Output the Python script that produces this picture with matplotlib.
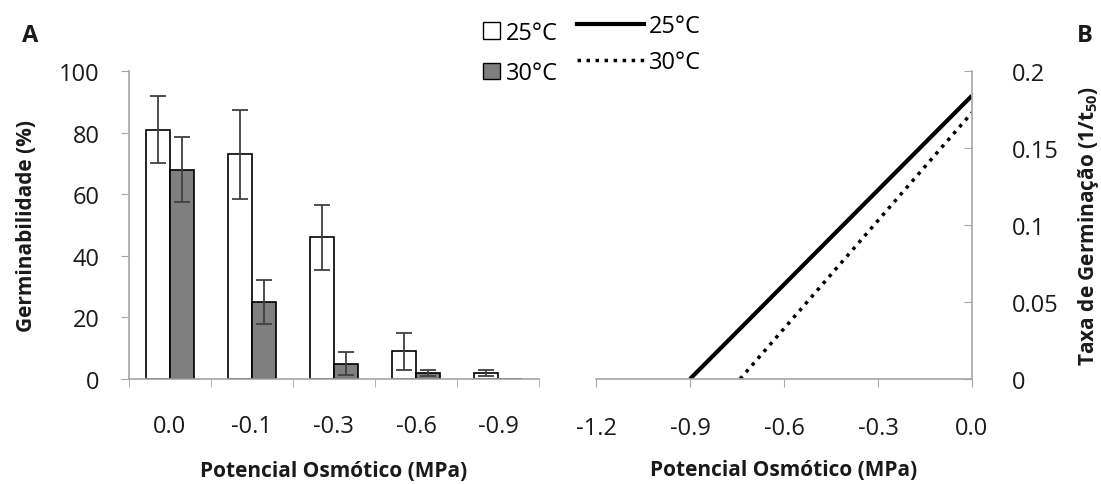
import numpy as np
import matplotlib
matplotlib.use("Agg")
import matplotlib.pyplot as plt
from matplotlib.patches import Patch
from matplotlib.lines import Line2D

plt.rcParams['font.family'] = ['Open Sans', 'DejaVu Sans']
plt.rcParams['mathtext.fontset'] = 'custom'
plt.rcParams['mathtext.rm'] = 'Open Sans'
plt.rcParams['mathtext.bf'] = 'Open Sans:bold'

# panel A: germinability (%)
categories = ['0.0', '-0.1', '-0.3', '-0.6', '-0.9']
germ_25 = [81, 73, 46, 9, 2]
err_25 = [11, 14.5, 10.5, 6, 1]
germ_30 = [68, 25, 5, 2, 0]
err_30 = [10.5, 7, 3.7, 1, 0]

# panel B: germination rate lines (1/t50)
x_25 = [-0.9, 0.0]
y_25 = [0.0, 0.184]
x_30 = [-0.74, 0.0]
y_30 = [0.0, 0.173]

b_ticks = [-1.2, -0.9, -0.6, -0.3, 0.0]
b_yticks = [0, 0.05, 0.1, 0.15, 0.2]

axis_col = '#a6a6a6'
txt_col = '#1a1a1a'
fs = 17
lfs = 15

fig = plt.figure(figsize=(11.01, 4.85), dpi=100)
axA = fig.add_axes([0.117, 0.2165, 0.3726, 0.635])
axB = fig.add_axes([0.5413, 0.2165, 0.3415, 0.635])

# ----- A -----
x = np.arange(len(categories))
w = 0.29
axA.bar(x - w / 2, germ_25, w, color='white', edgecolor='black', linewidth=1.2)
axA.bar(x + w / 2, germ_30, w, color='#7f7f7f', edgecolor='black', linewidth=1.2)
for i in range(len(categories)):
    if germ_25[i] > 0:
        axA.errorbar(x[i] - w / 2, germ_25[i], yerr=err_25[i], fmt='none',
                     ecolor='#404040', elinewidth=1.3, capsize=6, capthick=1.3)
    if germ_30[i] > 0:
        axA.errorbar(x[i] + w / 2, germ_30[i], yerr=err_30[i], fmt='none',
                     ecolor='#404040', elinewidth=1.3, capsize=6, capthick=1.3)
axA.set_xlim(-0.5, len(categories) - 0.5)
axA.set_ylim(0, 100)
axA.set_yticks([0, 20, 40, 60, 80, 100])
axA.set_xticks(x)
axA.set_xticklabels(categories)
axA.set_xticks(np.arange(-0.5, len(categories), 1), minor=True)
axA.tick_params(axis='x', which='major', length=0, pad=25)
axA.tick_params(axis='x', which='minor', length=6, color=axis_col, direction='out')
axA.tick_params(axis='y', length=6, color=axis_col, direction='out', pad=15)
axA.tick_params(labelsize=fs, labelcolor=txt_col)
for s in ['top', 'right']:
    axA.spines[s].set_visible(False)
for s in ['left', 'bottom']:
    axA.spines[s].set_color(axis_col)
    axA.spines[s].set_linewidth(1.2)
axA.set_ylabel('Germinabilidade (%)', fontsize=lfs, fontweight='bold', labelpad=16, color=txt_col)
axA.set_xlabel('Potencial Osmótico (MPa)', fontsize=lfs, fontweight='bold', labelpad=16, color=txt_col)

# ----- B -----
axB.plot(x_25, y_25, color='black', linewidth=3, solid_capstyle='butt')
axB.plot(x_30, y_30, color='black', linewidth=2.5, linestyle=(0, (1, 1.6)))
axB.set_xlim(-1.2, 0.0)
axB.set_ylim(0, 0.2)
axB.set_xticks(b_ticks)
axB.set_xticklabels(['%.1f' % v for v in b_ticks])
axB.set_yticks(b_yticks)
axB.set_yticklabels(['0', '0.05', '0.1', '0.15', '0.2'])
axB.yaxis.tick_right()
axB.yaxis.set_label_position('right')
axB.tick_params(axis='x', length=6, color=axis_col, direction='out', pad=21)
axB.tick_params(axis='y', length=6, color=axis_col, direction='in', pad=29)
axB.tick_params(labelsize=fs, labelcolor=txt_col)
for s in ['top', 'left']:
    axB.spines[s].set_visible(False)
for s in ['right', 'bottom']:
    axB.spines[s].set_color(axis_col)
    axB.spines[s].set_linewidth(1.2)
axB.set_ylabel(r'Taxa de Germinação (1/t$_{\mathbf{50}}$)', fontsize=lfs,
               fontweight='bold', labelpad=12, color=txt_col)
axB.set_xlabel('Potencial Osmótico (MPa)', fontsize=lfs, fontweight='bold', labelpad=13, color=txt_col)

# legends
hA = [Patch(facecolor='white', edgecolor='black', label='25°C'),
      Patch(facecolor='#7f7f7f', edgecolor='black', label='30°C')]
fig.legend(handles=hA, loc='upper left', bbox_to_anchor=(0.428, 0.98), frameon=False,
           fontsize=fs, handlelength=0.7, handleheight=0.7, handletextpad=0.25,
           labelspacing=0.7, borderaxespad=0.1)
hB = [Line2D([], [], color='black', linewidth=3, label='25°C'),
      Line2D([], [], color='black', linewidth=2.5, linestyle=(0, (1, 1.6)), label='30°C')]
fig.legend(handles=hB, loc='upper left', bbox_to_anchor=(0.513, 0.993), frameon=False,
           fontsize=fs, handlelength=2.85, handletextpad=0.2,
           labelspacing=0.5, borderaxespad=0.1)

fig.text(0.02, 0.925, 'A', fontsize=fs, fontweight='bold', color=txt_col, va='center')
fig.text(0.978, 0.925, 'B', fontsize=fs, fontweight='bold', color=txt_col, va='center')

fig.savefig('out.png', dpi=100)
